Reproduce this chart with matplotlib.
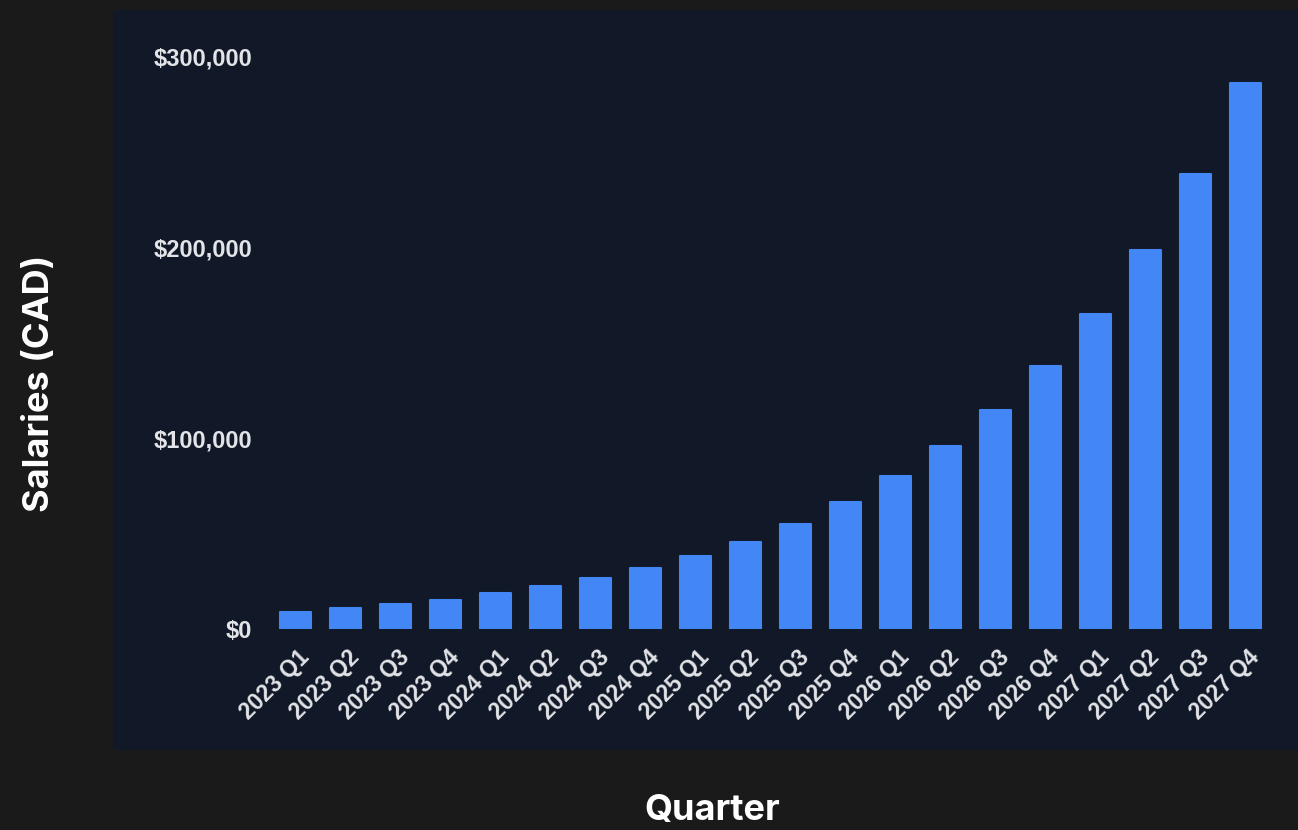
import matplotlib
matplotlib.use("Agg")
import matplotlib.pyplot as plt
from matplotlib.ticker import FuncFormatter

quarters = [
    "2023 Q1", "2023 Q2", "2023 Q3", "2023 Q4",
    "2024 Q1", "2024 Q2", "2024 Q3", "2024 Q4",
    "2025 Q1", "2025 Q2", "2025 Q3", "2025 Q4",
    "2026 Q1", "2026 Q2", "2026 Q3", "2026 Q4",
    "2027 Q1", "2027 Q2", "2027 Q3", "2027 Q4",
]
salaries = [
    9100, 11200, 13200, 15300,
    18700, 22700, 26700, 31900,
    38400, 45500, 55000, 66600,
    80100, 95800, 114700, 137700,
    165000, 198500, 238000, 286000,
]
y_ticks = [0, 100000, 200000, 300000]

bg = "#1a1a1a"
panel = "#111827"
bar_color = "#4287f5"
tick_color = "#e2e4e8"

W, H = 1298, 830
fig = plt.figure(figsize=(W / 100, H / 100), dpi=100)
fig.patch.set_facecolor(bg)

# navy card behind the chart
card = fig.add_axes([113 / W, 1 - 750 / H, 1185 / W, 740 / H], zorder=0)
card.set_facecolor(panel)
card.set_xticks([])
card.set_yticks([])
for s in card.spines.values():
    s.set_visible(False)

ax = fig.add_axes([270 / W, 1 - 629 / H, 1000 / W, 573 / H], zorder=1)
ax.set_facecolor("none")

x = list(range(len(quarters)))
ax.bar(
    x, salaries, width=0.62, color=bar_color,
    edgecolor=bar_color, linewidth=1.5, joinstyle="round"
)

ax.set_xlim(-0.5, len(quarters) - 0.5)
ax.set_ylim(0, 300000)
ax.set_yticks(y_ticks)
ax.yaxis.set_major_formatter(FuncFormatter(lambda v, p: f"${v:,.0f}"))

# rotated labels end under the right edge of each bar
ax.set_xticks([i + 0.22 for i in x])
ax.set_xticklabels(
    quarters, rotation=45, ha="right", va="center",
    rotation_mode="anchor"
)

for lab in ax.get_xticklabels() + ax.get_yticklabels():
    lab.set_fontfamily("Liberation Sans")
    lab.set_fontweight("bold")
    lab.set_color(tick_color)
for lab in ax.get_yticklabels():
    lab.set_fontsize(17)
for lab in ax.get_xticklabels():
    lab.set_fontsize(16.5)

ax.tick_params(axis="y", length=0, pad=13)
ax.tick_params(axis="x", length=0, pad=18)

for s in ax.spines.values():
    s.set_visible(False)

fig.text(40 / W, 1 - 383 / H, "Salaries (CAD)", rotation=90,
         ha="center", va="center", color="white",
         fontfamily="Inter", fontweight="bold", fontsize=26)
fig.text(712 / W, 1 - 810 / H, "Quarter",
         ha="center", va="center", color="white",
         fontfamily="Inter", fontweight="bold", fontsize=26)

fig.savefig("out.png", dpi=100, facecolor=bg)
